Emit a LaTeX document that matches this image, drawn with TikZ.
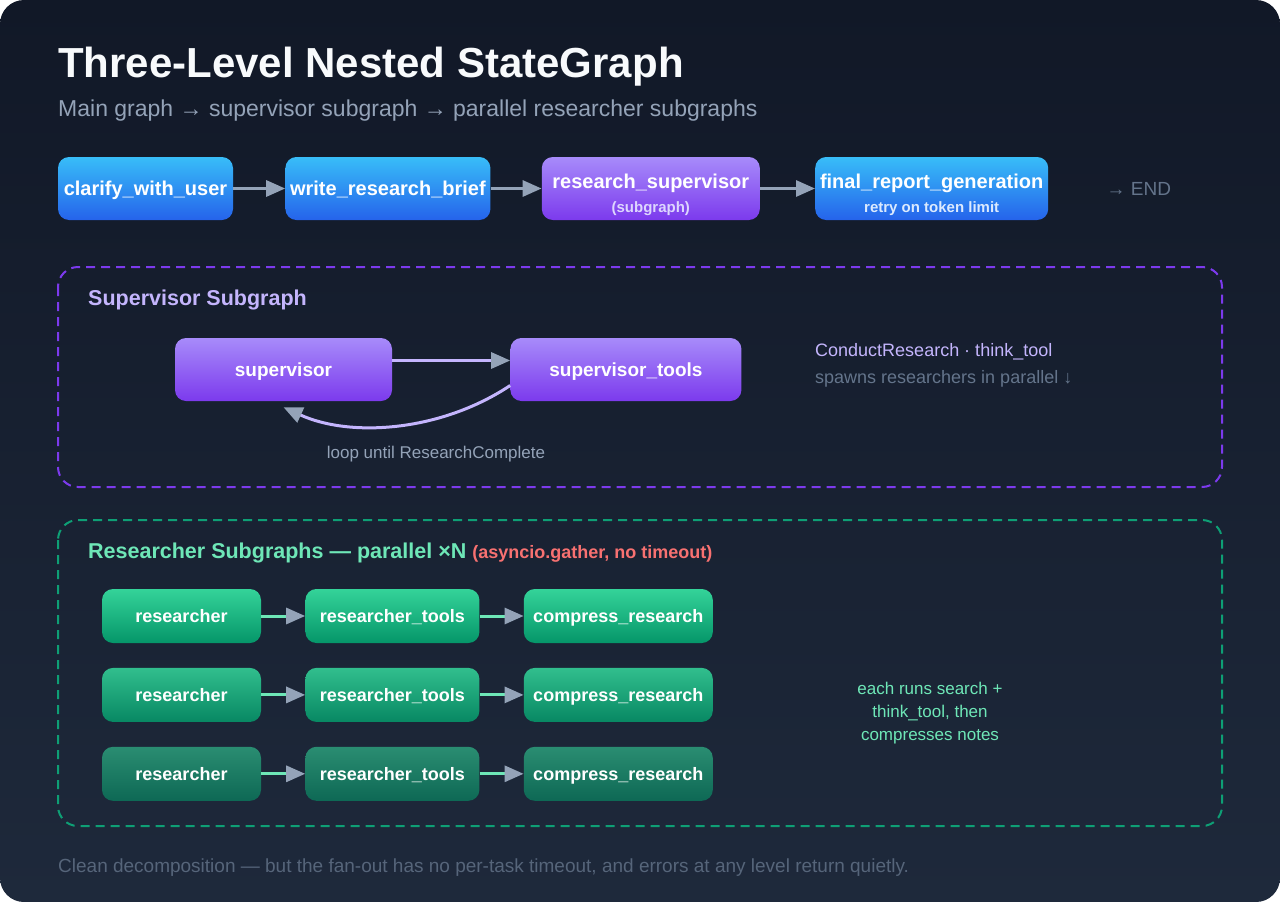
\documentclass[tikz,border=0pt]{standalone}
\usepackage{fontspec}
\setmainfont{Liberation Sans}
\usetikzlibrary{arrows.meta,positioning}

\definecolor{bgtop}{HTML}{111827}
\definecolor{bgbot}{HTML}{1E293B}
\definecolor{rowbg}{HTML}{1B2436}
\definecolor{bluetop}{HTML}{38BDF8}
\definecolor{bluebot}{HTML}{2563EB}
\definecolor{purtop}{HTML}{A78BFA}
\definecolor{purbot}{HTML}{7C3AED}
\definecolor{grntop}{HTML}{34D399}
\definecolor{grnbot}{HTML}{059669}
\definecolor{grpgreen}{HTML}{0E9F75}
\definecolor{arrgray}{HTML}{94A3B8}
\definecolor{mutegray}{HTML}{64748B}
\definecolor{footgray}{HTML}{56657A}
\definecolor{titlewhite}{HTML}{F8FAFC}
\definecolor{lavender}{HTML}{C4B5FD}
\definecolor{palelav}{HTML}{DDD6FE}
\definecolor{paleblue}{HTML}{DBEAFE}
\definecolor{mint}{HTML}{6EE7B7}
\definecolor{alertred}{HTML}{F87171}

\begin{document}
\begin{tikzpicture}[
  x=1pt, y=-1pt, font=\fontsize{18}{22}\selectfont,
  b/.style={rounded corners=11pt, inner sep=0pt, minimum height=63pt, align=center, text=white, font=\fontsize{20}{24}\selectfont\bfseries},
  one/.style={text height=#1, text depth=0pt},
  bb/.style={b, top color=bluetop, bottom color=bluebot},
  pb/.style={b, top color=purtop, bottom color=purbot},
  gb/.style={b, one=12.6pt, minimum height=54pt, font=\fontsize{18}{22}\selectfont\bfseries, top color=grntop!#1!rowbg, bottom color=grnbot!#1!rowbg},
  lbl/.style={inner sep=0pt, anchor=base west},
  grp/.style={rounded corners=20pt, line width=2pt, dash pattern=on 9pt off 6pt},
  gtitle/.style={lbl, font=\fontsize{21.5}{26}\selectfont\bfseries},
  pf/.style={line width=3pt, draw=#1, -{Triangle[length=19pt, width=16pt, color=arrgray]}},
  pf/.default=arrgray
]
% backdrop
\useasboundingbox (0,0) rectangle (1280,902);
\fill[white] (0,0) rectangle (1280,902);
\shade[top color=bgtop, bottom color=bgbot, rounded corners=24pt] (0,0) rectangle (1280,902);

% heading
\node[lbl, text=titlewhite, font=\fontsize{42}{50}\selectfont\bfseries] (title) at (58,77) {Three-Level Nested StateGraph};
\node[lbl, text=arrgray, font=\fontsize{23}{27}\selectfont] (subtitle) at (58,116) {Main graph → supervisor subgraph → parallel researcher subgraphs};

% main graph
\node[bb, one=14pt, minimum width=175pt] (clarify) at (145.5,188.5) {clarify\_with\_user};
\node[bb, one=14pt, minimum width=205pt, right=52pt of clarify] (brief) {write\_research\_brief};
\node[pb, minimum width=218pt, right=51pt of brief] (rsup) {\rule{0pt}{27pt}research\_supervisor\\[0pt]{\color{palelav}\fontsize{15}{18}\selectfont (subgraph)}};
\node[bb, minimum width=233pt, right=55pt of rsup] (report) {\rule{0pt}{27pt}final\_report\_generation\\[0pt]{\color{paleblue}\fontsize{15}{18}\selectfont retry on token limit}};
\node[right=58pt of report, inner sep=0pt, text=mutegray, font=\fontsize{19}{23}\selectfont] (end) {→ END};
\draw[pf] (clarify) -- (brief);
\draw[pf] (brief) -- (rsup);
\draw[pf] (rsup) -- (report);

% supervisor subgraph
\draw[grp, draw=purbot] (58,267) rectangle (1222,487);
\node[gtitle, text=lavender] (suptitle) at (88,305) {Supervisor Subgraph};
\node[pb, one=13.3pt, minimum width=217pt, font=\fontsize{19}{23}\selectfont\bfseries] (sup) at (283.5,369.5) {supervisor};
\node[pb, one=13.3pt, minimum width=231pt, font=\fontsize{19}{23}\selectfont\bfseries, right=118pt of sup] (suptools) {supervisor\_tools};
\draw[pf=lavender] ([yshift=9pt]sup.east) -- ([yshift=9pt]suptools.west);
\draw[pf=lavender] ([yshift=-16pt]suptools.west) .. controls +(-70,46.5) and +(66.5,30.5) .. ([yshift=-6pt]sup.south);
\node[text=arrgray, font=\fontsize{17}{20}\selectfont] (looplbl) at (436,454) {loop until ResearchComplete};
\node[lbl, text=lavender] (calls) at (815,356) {ConductResearch · think\_tool};
\node[lbl, text=mutegray] (spawn) at (815,383) {spawns researchers in parallel ↓};

% researcher subgraphs
\draw[grp, draw=grpgreen] (58,520) rectangle (1222,826);
\node[gtitle, text=mint] (restitle) at (88,558) {Researcher Subgraphs — parallel ×N {\color{alertred}\fontsize{18}{22}\selectfont(asyncio.gather, no timeout)}};
\node[gb=100, minimum width=159pt] (res1) at (181.5,616) {researcher};
\node[gb=100, minimum width=174pt, right=44pt of res1] (tools1) {researcher\_tools};
\node[gb=100, minimum width=189pt, right=44pt of tools1] (comp1) {compress\_research};
\node[gb=88, minimum width=159pt, below=24.5pt of res1] (res2) {researcher};
\node[gb=88, minimum width=174pt, right=44pt of res2] (tools2) {researcher\_tools};
\node[gb=88, minimum width=189pt, right=44pt of tools2] (comp2) {compress\_research};
\node[gb=60, minimum width=159pt, below=24.5pt of res2] (res3) {researcher};
\node[gb=60, minimum width=174pt, right=44pt of res3] (tools3) {researcher\_tools};
\node[gb=60, minimum width=189pt, right=44pt of tools3] (comp3) {compress\_research};
\draw[pf=mint] (res1) -- (tools1);
\draw[pf=mint] (tools1) -- (comp1);
\draw[pf=mint] (res2) -- (tools2);
\draw[pf=mint] (tools2) -- (comp2);
\draw[pf=mint] (res3) -- (tools3);
\draw[pf=mint] (tools3) -- (comp3);
\node[text=mint, align=center, font=\fontsize{17}{23}\selectfont] (eachnote) at (930,713) {each runs search +\\think\_tool, then\\compresses notes};

% footer
\node[lbl, text=footgray, font=\fontsize{19}{23}\selectfont] (foot) at (58,872) {Clean decomposition — but the fan-out has no per-task timeout, and errors at any level return quietly.};
\end{tikzpicture}
\end{document}
